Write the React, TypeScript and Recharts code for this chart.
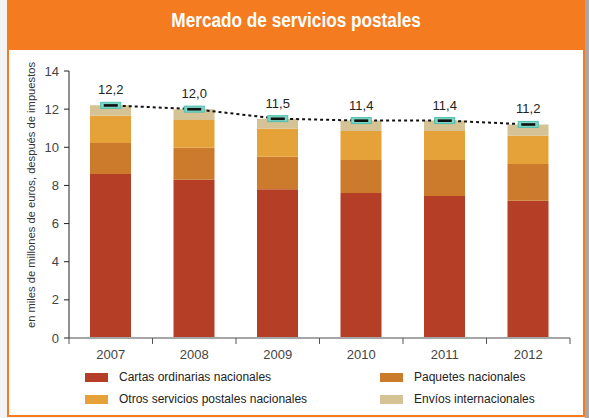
import React from 'react';
import { ComposedChart, Bar, Line, XAxis, YAxis, LabelList } from 'recharts';

const years = ['2007', '2008', '2009', '2010', '2011', '2012'];
const cartas = [8.6, 8.3, 7.8, 7.6, 7.45, 7.2];
const paquetes = [1.63, 1.68, 1.7, 1.73, 1.88, 1.93];
const otros = [1.42, 1.45, 1.47, 1.52, 1.52, 1.47];
const envios = [0.55, 0.57, 0.53, 0.55, 0.55, 0.6];
const totals = [12.2, 12.0, 11.5, 11.4, 11.4, 11.2];
const yTicks = [0, 2, 4, 6, 8, 10, 12, 14];

const seriesNames = [
  'Cartas ordinarias nacionales',
  'Paquetes nacionales',
  'Otros servicios postales nacionales',
  'Envíos internacionales',
];
const seriesKeys = ['cartas', 'paquetes', 'otros', 'envios'];
const seriesColors = ['#B53F26', '#CC7B2D', '#E5A238', '#D6C395'];

const title = 'Mercado de servicios postales';
const yLabel = 'en miles de millones de euros, después de impuestos';

const data = years.map((year, i) => ({
  year,
  cartas: cartas[i],
  paquetes: paquetes[i],
  otros: otros[i],
  envios: envios[i],
  total: totals[i],
}));

const W = 589;
const H = 418;
const PLOT_LEFT = 69;
const PLOT_RIGHT = 570;
const PLOT_TOP = 71;
const PLOT_BOTTOM = 338;
const BAND = (PLOT_RIGHT - PLOT_LEFT) / years.length;
const ORANGE = '#F47B20';
const FONT = "'Liberation Sans', Arial, sans-serif";

const XTick = (props: any) => {
  const { x, payload, index } = props;
  const half = BAND / 2;
  return (
    <g>
      <line x1={x - half} x2={x - half} y1={PLOT_BOTTOM} y2={PLOT_BOTTOM + 6} stroke="#555" strokeWidth={1} />
      {index === years.length - 1 && (
        <line x1={x + half} x2={x + half} y1={PLOT_BOTTOM} y2={PLOT_BOTTOM + 6} stroke="#555" strokeWidth={1} />
      )}
      <text x={x} y={PLOT_BOTTOM + 21} textAnchor="middle" fontSize={13} fill="#444" fontFamily={FONT}>
        {payload.value}
      </text>
    </g>
  );
};

const TotalDot = (props: any) => {
  const { cx, cy, index } = props;
  if (cx == null || cy == null) return <g key={`d${index}`} />;
  return (
    <g key={`d${index}`}>
      <rect x={cx - 10} y={cy - 3} width={20} height={6} fill="#7FD6C7" stroke="#4DBFAD" strokeWidth={1} />
      <rect x={cx - 7} y={cy - 1.2} width={14} height={2.6} fill="#111" />
    </g>
  );
};

const YLabel = () => (
  <text
    x={32}
    y={195}
    transform="rotate(-90, 32, 195)"
    textAnchor="middle"
    dominantBaseline="middle"
    fontSize={11.2}
    fill="#333"
    fontFamily={FONT}
  >
    {yLabel}
  </text>
);

export default function App() {
  return (
    <div style={{ position: 'absolute', left: 0, top: 0, width: W, height: H, background: '#f3f3f3', overflow: 'hidden', fontFamily: FONT }}>
      <div style={{ position: 'absolute', left: 585, top: 0, width: 4, height: H, background: '#a8a8a8' }} />
      <div
        style={{
          position: 'absolute',
          left: 7,
          top: 0,
          width: 578,
          height: 417,
          boxSizing: 'border-box',
          background: '#fff',
          borderLeft: `2px solid ${ORANGE}`,
          borderRight: `2px solid ${ORANGE}`,
          borderBottom: `2px solid ${ORANGE}`,
        }}
      />
      <div
        style={{
          position: 'absolute',
          left: 7,
          top: 0,
          width: 578,
          height: 50,
          background: ORANGE,
          color: '#fff',
          textAlign: 'center',
          lineHeight: '40px',
          fontSize: 20,
          fontWeight: 'bold',
          fontFamily: FONT,
        }}
      >
        <span style={{ display: 'inline-block', transform: 'scaleX(0.86)', transformOrigin: 'center', whiteSpace: 'nowrap' }}>{title}</span>
      </div>
      <div style={{ position: 'absolute', left: 0, top: 0 }}>
        <ComposedChart
          width={W}
          height={H}
          data={data}
          margin={{ top: PLOT_TOP, right: W - PLOT_RIGHT, bottom: H - PLOT_BOTTOM - 30, left: 0 }}
        >
          <XAxis
            dataKey="year"
            type="category"
            height={30}
            axisLine={{ stroke: '#a6a6a6', strokeWidth: 2 }}
            tickLine={false}
            tick={<XTick />}
            interval={0}
          />
          <YAxis
            width={PLOT_LEFT}
            domain={[0, 14]}
            ticks={yTicks}
            interval={0}
            tickSize={5}
            tickMargin={5}
            axisLine={{ stroke: '#222' }}
            tickLine={{ stroke: '#222' }}
            tick={{ fontSize: 13, fill: '#444', fontFamily: FONT }}
            label={<YLabel />}
          />
          {seriesKeys.map((k, i) => (
            <Bar key={k} dataKey={k} stackId="a" fill={seriesColors[i]} barSize={41} isAnimationActive={false} />
          ))}
          <Line
            dataKey="total"
            type="linear"
            stroke="#111"
            strokeWidth={2}
            strokeDasharray="3 3"
            dot={<TotalDot />}
            activeDot={false}
            isAnimationActive={false}
          >
            <LabelList
              dataKey="total"
              position="top"
              offset={11}
              fontSize={13}
              fill="#222"
              fontFamily={FONT}
              formatter={(v: any) => Number(v).toFixed(1).replace('.', ',')}
            />
          </Line>
        </ComposedChart>
      </div>
      {seriesNames.map((name, i) => {
        const col = i % 2;
        const row = Math.floor(i / 2);
        const left = col === 0 ? 85 : 380;
        const top = row === 0 ? 372 : 394;
        return (
          <div key={name} style={{ position: 'absolute', left, top, display: 'flex', alignItems: 'center', height: 10 }}>
            <div style={{ width: 23, height: 9, background: seriesColors[i] }} />
            <div style={{ marginLeft: 11, fontSize: 12, color: '#222', whiteSpace: 'nowrap', lineHeight: '10px' }}>{name}</div>
          </div>
        );
      })}
    </div>
  );
}
